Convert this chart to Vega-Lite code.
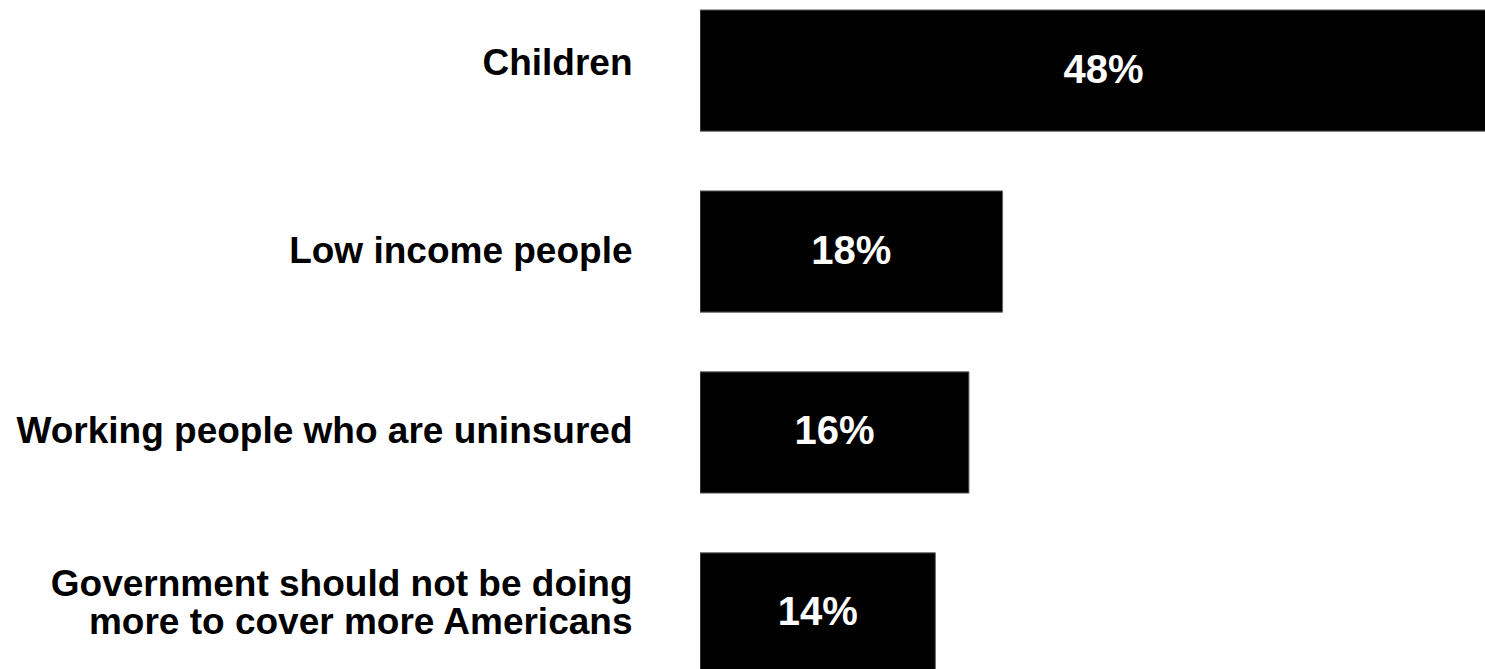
{
  "$schema": "https://vega.github.io/schema/vega-lite/v6.json",
  "width": 785,
  "height": 684,
  "autosize": {"type": "none"},
  "padding": {"left": 700, "top": 0, "right": 0, "bottom": 0},
  "background": "white",
  "config": {"view": {"stroke": null}},
  "data": {
    "values": [
      {"group": "Children", "pct": 0.48},
      {"group": "Low income people", "pct": 0.18},
      {"group": "Working people who are uninsured", "pct": 0.16},
      {"group": "Government should not be doing more to cover more Americans", "pct": 0.14}
    ]
  },
  "encoding": {
    "y": {
      "field": "group",
      "type": "nominal",
      "sort": null,
      "scale": {"paddingInner": 0.33, "paddingOuter": 0.055},
      "axis": {
        "title": null,
        "ticks": false,
        "domain": false,
        "labelPadding": 68,
        "labelFont": "Liberation Sans",
        "labelFontSize": 37,
        "labelFontWeight": "bold",
        "labelColor": "black",
        "labelLimit": 0,
        "labelLineHeight": 38,
        "labelOffset": {
          "condition": [
            {"test": "datum.value == 'Government should not be doing more to cover more Americans'", "value": -28},
            {"test": "datum.value == 'Children'", "value": -7}
          ],
          "value": 0
        },
        "labelExpr": "datum.value == 'Government should not be doing more to cover more Americans' ? ['Government should not be doing', 'more to cover more Americans'] : datum.label"
      }
    }
  },
  "layer": [
    {
      "mark": {"type": "bar", "color": "black", "stroke": "#666666", "strokeWidth": 1, "clip": true},
      "encoding": {
        "x": {"field": "pct", "type": "quantitative", "scale": {"domain": [0, 0.467], "nice": false}, "axis": null}
      }
    },
    {
      "transform": [{"calculate": "datum.pct / 2", "as": "mid"}],
      "mark": {"type": "text", "color": "white", "font": "Liberation Sans", "fontSize": 40, "fontWeight": "bold", "align": "center", "baseline": "middle"},
      "encoding": {
        "x": {"field": "mid", "type": "quantitative"},
        "text": {"field": "pct", "type": "quantitative", "format": ".0%"}
      }
    }
  ]
}
